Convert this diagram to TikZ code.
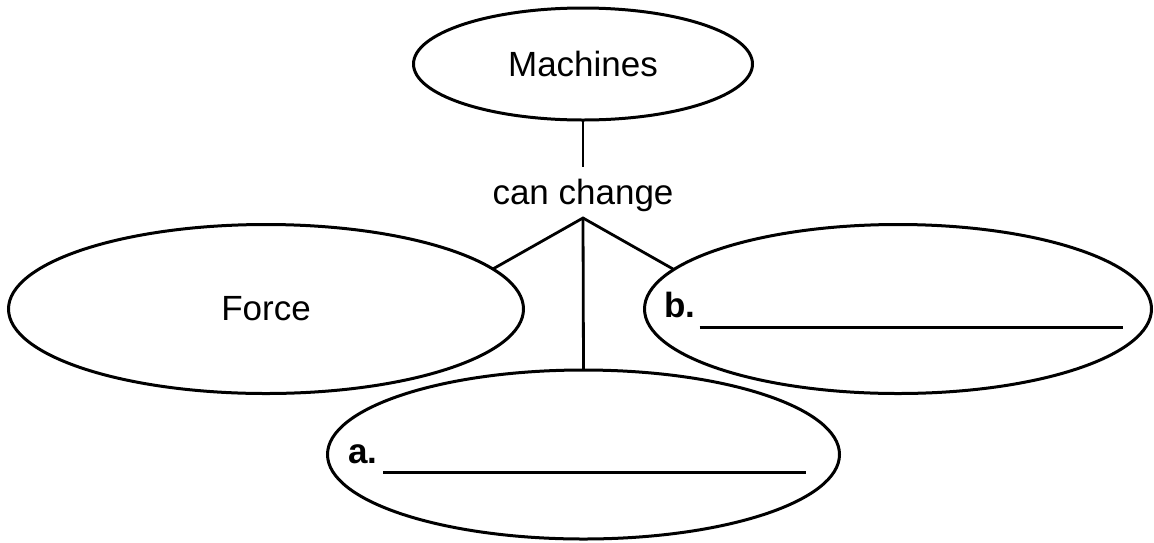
\documentclass[tikz,border=0pt]{standalone}
\usepackage{fontspec}
\setmainfont{Liberation Sans}
\usetikzlibrary{shapes.geometric}
\begin{document}
\begin{tikzpicture}[x=1pt,y=-1pt,
  bubble/.style={ellipse,draw=black,line width=3pt,inner sep=0pt,outer sep=0pt},
  txt/.style={font=\fontsize{35pt}{42pt}\selectfont,inner sep=0pt},
  boldtxt/.style={font=\fontsize{35pt}{42pt}\selectfont\bfseries,inner sep=0pt},
  link/.style={draw=black,line width=2.8pt,line join=miter},
  blank/.style={draw=black,line width=2.8pt},
]
\useasboundingbox (0,0) rectangle (1154,542);

% concept bubbles
\node[bubble,txt,minimum width=339pt,minimum height=112pt] (machines) at (583,64) {Machines};
\node[bubble,txt,minimum width=515pt,minimum height=169pt] (force) at (266,309) {Force};
\node[bubble,minimum width=507pt,minimum height=169pt] (bb) at (898,309) {};
\node[bubble,minimum width=512pt,minimum height=169pt] (aa) at (583.5,454.5) {};

% linking phrase
\node[txt,anchor=base] (cc) at (583,204) {can change};
\coordinate (cctop) at (583,167);
\coordinate (apex) at (583,218);

% connectors
\draw[link] (machines.south) -- (cctop);
\draw[link] (force.10) -- (apex) -- (bb.170);
\draw[link] (apex) -- (aa.north);

% answer blanks
\node[boldtxt,anchor=base west] (blabel) at (664,317.5) {b.};
\coordinate (bstart) at (699.5,327.5);
\coordinate (bend) at (1122.5,327.5);
\draw[blank] (bstart) -- (bend);

\node[boldtxt,anchor=base west] (alabel) at (348,463.5) {a.};
\coordinate (astart) at (383,472.8);
\coordinate (aend) at (806,472.8);
\draw[blank] (astart) -- (aend);
\end{tikzpicture}
\end{document}
